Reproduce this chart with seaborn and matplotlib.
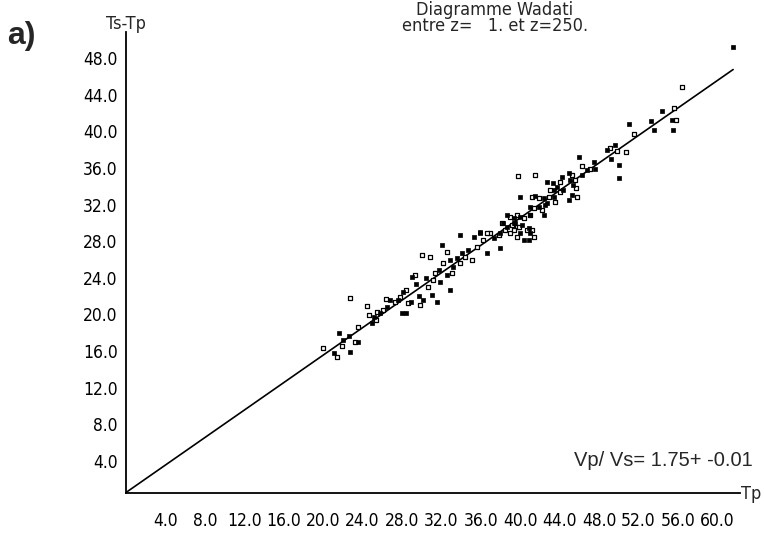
import matplotlib
matplotlib.use("Agg")
import matplotlib.pyplot as plt
import matplotlib.transforms as mtransforms
from matplotlib import font_manager
import numpy as np
import pandas as pd
import seaborn as sns

# ---------------- data ----------------
# open (hollow) squares
tp_open = [22.74, 24.50, 19.97, 21.39, 23.58, 23.25, 21.90, 24.70, 25.45, 25.38,
           26.12, 26.40, 27.31, 27.82, 28.43, 28.66, 29.34, 29.85, 30.02, 30.86,
           30.69, 31.20, 31.37, 32.21, 32.56, 33.07, 33.91, 34.42, 35.10, 35.60,
           36.27, 36.95, 37.80, 38.14, 38.98, 39.66, 40.68, 55.56, 51.50, 55.81,
           50.73, 49.07, 49.82, 47.11, 46.26, 39.77, 41.45, 45.25, 45.58, 45.69,
           45.76, 44.06, 43.05, 41.19, 41.86, 42.87, 43.55, 44.06, 41.35, 42.20,
           38.98, 39.66, 40.34, 41.02, 39.16, 39.83, 39.32, 41.19, 41.35, 36.62,
           38.48, 39.66, 56.42]
ts_open = [21.22, 20.38, 15.76, 14.78, 18.05, 16.48, 16.01, 19.40, 19.76, 18.85,
           19.95, 21.11, 20.85, 21.40, 22.13, 20.68, 23.77, 20.49, 25.96, 25.77,
           22.49, 23.22, 23.96, 25.05, 26.32, 23.96, 25.05, 25.77, 25.41, 26.86,
           27.60, 28.33, 28.14, 29.42, 28.33, 29.05, 28.69, 41.99, 39.18, 40.71,
           37.14, 37.62, 37.25, 35.32, 35.61, 34.59, 34.70, 34.70, 34.15, 33.25,
           32.33, 33.97, 33.06, 32.33, 32.15, 32.33, 31.78, 32.87, 31.06, 30.87,
           30.14, 30.33, 29.97, 30.33, 29.23, 29.05, 28.69, 28.69, 27.96, 28.33,
           28.69, 27.96, 44.28]
# filled squares
tp_fill = [21.66, 21.15, 22.74, 22.67, 23.58, 22.06, 25.18, 25.79, 24.94, 26.47,
           26.80, 27.64, 28.15, 27.99, 28.43, 28.93, 29.01, 29.44, 29.78, 30.18,
           30.46, 31.04, 31.54, 31.71, 31.88, 32.05, 32.89, 32.56, 32.89, 33.23,
           33.57, 33.91, 34.08, 34.75, 35.26, 35.94, 36.62, 37.29, 37.97, 38.65,
           39.32, 40.00, 40.84, 54.39, 53.27, 51.00, 53.53, 55.40, 55.50, 48.80,
           49.57, 49.24, 49.98, 49.98, 45.92, 47.44, 47.61, 46.77, 46.26, 44.90,
           45.08, 45.35, 45.25, 44.90, 44.23, 43.73, 43.45, 42.71, 43.32, 40.00,
           41.52, 42.37, 42.71, 43.38, 44.34, 41.02, 41.86, 42.37, 42.54, 38.65,
           39.32, 40.00, 41.02, 38.30, 39.49, 40.17, 40.84, 41.02, 35.94, 37.97,
           40.34, 61.60]
ts_fill = [17.40, 15.21, 15.39, 17.10, 16.48, 16.67, 19.21, 19.58, 18.49, 20.31,
           21.04, 21.04, 21.95, 19.58, 19.58, 20.85, 23.58, 22.79, 21.48, 21.04,
           23.41, 21.58, 20.85, 24.32, 23.04, 27.05, 22.13, 23.77, 25.41, 24.68,
           25.60, 28.14, 26.14, 26.50, 27.96, 28.33, 26.14, 27.78, 26.69, 29.05,
           29.42, 28.33, 27.60, 41.62, 40.60, 40.27, 39.62, 40.71, 39.62, 37.43,
           37.98, 36.42, 35.72, 34.34, 36.70, 36.09, 35.32, 35.25, 34.70, 34.89,
           34.15, 33.61, 32.51, 31.97, 34.51, 33.42, 33.06, 33.97, 33.79, 32.33,
           32.40, 32.15, 31.61, 32.33, 33.06, 31.23, 31.23, 30.33, 31.42, 30.33,
           29.97, 30.14, 30.33, 29.42, 29.42, 29.23, 28.87, 28.33, 28.50, 28.33,
           27.60, 48.61]

vp_vs = 1.75
tp_line = [0.0, 61.6]

x_ticks = [4, 8, 12, 16, 20, 24, 28, 32, 36, 40, 44, 48, 52, 56, 60]
y_ticks = [4, 8, 12, 16, 20, 24, 28, 32, 36, 40, 44, 48]

title_lines = ["Diagramme Wadati", "entre z=   1. et z=250."]
x_label = "Tp"
y_label = "Ts-Tp"
panel_label = "a)"
ratio_text = "Vp/ Vs= 1.75+ -0.01"


# ---------------- narrow sans font lookup ----------------
def find_narrow_sans():
    cands = []
    for f in font_manager.fontManager.ttflist:
        fn = (f.fname or "").lower()
        base = fn.rsplit("/", 1)[-1]
        nm = (f.name or "").lower()
        if "serif" in base or "mono" in base or "serif" in nm or "mono" in nm:
            continue
        if any(k in base for k in ("bold", "oblique", "italic", "light",
                                   "black", "thin", "medium", "semibold")):
            continue
        narrow = ("narrow" in base or "condensed" in base
                  or "narrow" in nm or "condensed" in nm)
        if not narrow:
            continue
        score = 0
        if "liberation" in base:
            score = 3
        elif "dejavu" in base:
            score = 2
        elif "roboto" in base:
            score = 1
        cands.append((score, f.fname))
    if cands:
        cands.sort(reverse=True)
        return cands[0][1]
    return None


narrow_path = find_narrow_sans()
if narrow_path:
    NARROW = font_manager.FontProperties(fname=narrow_path)
    is_lib = "liberation" in narrow_path.lower()
    tick_size = 15 if is_lib else 12.5
    label_size = 14 if is_lib else 13
    title_size = 14 if is_lib else 13
else:
    NARROW = font_manager.FontProperties(family="DejaVu Sans")
    tick_size, label_size, title_size = 11, 12, 12

# ---------------- plot ----------------
sns.set_theme(style="white")
plt.rcParams["font.family"] = ["DejaVu Sans"]

W, H = 764, 533
fig = plt.figure(figsize=(W / 100, H / 100), dpi=100)
ax = fig.add_axes([126 / W, (H - 492.5) / H, 614 / W, 460.5 / H])
ax.set_xlim(0, 62.3)
ax.set_ylim(0, 50.3)

df_open = pd.DataFrame({"Tp": tp_open, "TsTp": ts_open})
df_fill = pd.DataFrame({"Tp": tp_fill, "TsTp": ts_fill})
sns.scatterplot(data=df_open, x="Tp", y="TsTp", marker="s", s=10,
                facecolor="white", edgecolor="black", linewidth=0.9, ax=ax,
                zorder=3)
sns.scatterplot(data=df_fill, x="Tp", y="TsTp", marker="s", s=8,
                color="black", edgecolor="black", linewidth=0.5, ax=ax,
                zorder=3)

df_line = pd.DataFrame({"Tp": tp_line,
                        "TsTp": [(vp_vs - 1.0) * t for t in tp_line]})
sns.lineplot(data=df_line, x="Tp", y="TsTp", color="black", linewidth=1.2,
             ax=ax, zorder=2)

for side in ["top", "right"]:
    ax.spines[side].set_visible(False)
for side in ["left", "bottom"]:
    ax.spines[side].set_color("black")
    ax.spines[side].set_linewidth(1.3)

ax.set_xticks(x_ticks)
ax.set_yticks(y_ticks)
ax.set_xticklabels([f"{v:.1f}" for v in x_ticks])
ax.set_yticklabels([f"{v:.1f}" for v in y_ticks])
ax.tick_params(axis="both", direction="inout", length=4, width=0.8,
               colors="black")
ax.tick_params(axis="x", pad=12)
ax.tick_params(axis="y", pad=4)
offset = mtransforms.ScaledTranslation(0, -5 / 100, fig.dpi_scale_trans)
for lab in ax.get_yticklabels():
    lab.set_fontproperties(NARROW)
    lab.set_fontsize(tick_size)
    lab.set_transform(lab.get_transform() + offset)
for lab in ax.get_xticklabels():
    lab.set_fontproperties(NARROW)
    lab.set_fontsize(tick_size)
ax.set_xlabel("")
ax.set_ylabel("")
ax.grid(False)

fig.text(126 / W, 1 - 24 / H, y_label, ha="center", va="center",
         fontproperties=NARROW, fontsize=label_size)
fig.text(741 / W, 1 - 494 / H, x_label, ha="left", va="center",
         fontproperties=NARROW, fontsize=label_size)
fig.text(7 / W, 1 - 36 / H, panel_label, ha="left", va="center", fontsize=23,
         fontweight="bold", family=["Liberation Sans", "DejaVu Sans"])
fig.text(495 / W, 1 - 18 / H, "\n".join(title_lines), ha="center",
         va="center", fontproperties=NARROW, fontsize=title_size,
         linespacing=0.85)
fig.text(753 / W, 1 - 460 / H, ratio_text, ha="right", va="center",
         fontsize=14.5, family=["Liberation Sans", "DejaVu Sans"])

fig.savefig("out.png", dpi=100)
